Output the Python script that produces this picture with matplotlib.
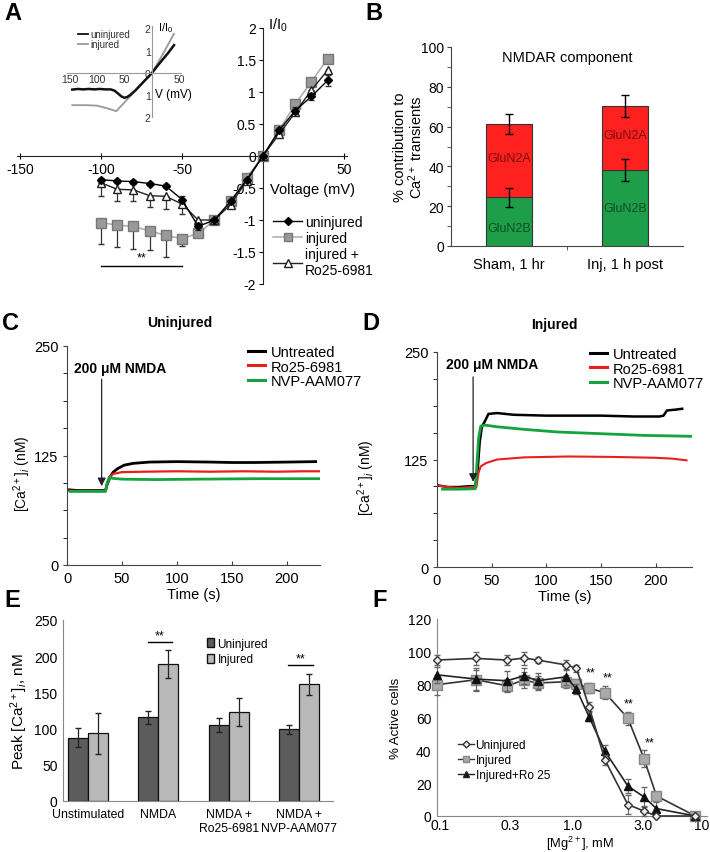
import matplotlib
matplotlib.use("Agg")
import matplotlib.pyplot as plt
import numpy as np
from matplotlib.lines import Line2D
from matplotlib.patches import Patch

plt.rcParams['font.family'] = ['Liberation Sans', 'DejaVu Sans']
plt.rcParams['mathtext.fontset'] = 'custom'
plt.rcParams['mathtext.rm'] = 'Liberation Sans'
plt.rcParams['mathtext.it'] = 'Liberation Sans:italic'
plt.rcParams['mathtext.bf'] = 'Liberation Sans:bold'

# ---------------- DATA ----------------
# Panel A: I-V relation
a_voltage = [-100, -90, -80, -70, -60, -50, -40, -30, -20, -10, 0, 10, 20, 30, 40]
a_uninjured = [-0.37, -0.39, -0.40, -0.43, -0.47, -0.68, -1.10, -1.00, -0.71, -0.37, 0.0, 0.40, 0.71, 0.93, 1.18]
a_uninjured_err = [0.03, 0.03, 0.03, 0.03, 0.03, 0.05, 0.05, 0.03, 0.03, 0.03, 0.0, 0.03, 0.05, 0.06, 0.08]
a_injured = [-1.04, -1.08, -1.10, -1.17, -1.24, -1.29, -1.21, -1.00, -0.71, -0.34, 0.0, 0.40, 0.81, 1.16, 1.52]
a_injured_err = [0.33, 0.34, 0.35, 0.30, 0.34, 0.12, 0.03, 0.03, 0.03, 0.03, 0.0, 0.03, 0.03, 0.03, 0.03]
a_ro = [-0.42, -0.52, -0.53, -0.62, -0.63, -0.75, -1.00, -1.00, -0.76, -0.39, 0.0, 0.34, 0.68, 1.03, 1.34]
a_ro_err = [0.21, 0.18, 0.18, 0.18, 0.20, 0.15, 0.03, 0.03, 0.03, 0.03, 0.0, 0.03, 0.04, 0.05, 0.06]
a_xticks = [-150, -100, -50, 0, 50]
a_yticks = [-2, -1.5, -1, -0.5, 0, 0.5, 1, 1.5, 2]

# Panel A inset: raw I-V ramps
ins_unin_v = [-145, -135, -125, -115, -105, -95, -85, -75, -68, -62, -56, -50, -45, -40, -30, -20, -10, 0, 10, 20, 30, 40]
ins_unin_i = [-0.75, -0.72, -0.74, -0.72, -0.74, -0.72, -0.74, -0.74, -0.80, -0.92, -1.05, -1.12, -1.08, -1.00, -0.78, -0.52, -0.26, 0.0, 0.32, 0.62, 0.92, 1.25]
ins_inj_v = [-145, -120, -100, -80, -65, -40, -20, 0, 20, 40]
ins_inj_i = [-1.45, -1.45, -1.47, -1.60, -1.72, -1.06, -0.53, 0.0, 0.86, 1.76]

# Panel B: stacked NMDAR components
b_groups = ['Sham, 1 hr', 'Inj, 1 h post']
b_glun2b = [24.5, 38.0]
b_glun2b_err = [4.7, 5.5]
b_total = [61.5, 70.5]
b_total_err = [5.0, 5.5]
b_glun2a = [t - g for t, g in zip(b_total, b_glun2b)]

# Panel C: uninjured Ca traces
c_black_t = [0, 10, 20, 30, 35, 36.5, 39, 42, 46, 52, 60, 75, 100, 130, 150, 170, 200, 226]
c_black_v = [86, 85, 85, 85, 85, 92, 100, 106, 110, 114, 116, 117.5, 118, 117.5, 117, 117, 117.5, 118]
c_red_t = [0, 10, 20, 30, 35, 36.5, 39, 42, 50, 70, 100, 130, 160, 190, 215, 231]
c_red_v = [85, 84.5, 84.5, 84.5, 84.5, 94, 101, 104, 106, 106.5, 107, 106.5, 107, 106.5, 107, 107]
c_green_t = [3, 15, 30, 35, 36.5, 38.5, 41, 50, 80, 120, 170, 229]
c_green_v = [84, 84, 84, 84, 93, 100.5, 99, 98, 97.5, 98, 98.5, 98.5]

# Panel D: injured Ca traces
d_black_t = [0, 10, 20, 30, 35, 37, 39, 41, 44, 47, 55, 70, 100, 150, 180, 203, 207, 210, 218, 224]
d_black_v = [95, 93, 93, 94, 94, 110, 145, 163, 170, 178, 179, 177, 176, 176, 175, 175, 176, 182, 183, 184]
d_red_t = [0, 10, 20, 30, 36, 38, 40, 45, 55, 80, 120, 160, 200, 215, 228]
d_red_v = [95, 93, 92, 93, 93, 110, 117, 121, 125, 127.5, 128.5, 128, 127, 126, 124]
d_green_t = [5, 20, 35, 36, 38, 40, 44, 55, 80, 110, 150, 190, 232]
d_green_v = [90.5, 90.5, 91, 110, 150, 164, 165, 163, 160, 157, 155, 153, 152]

# Panel E: peak Ca
e_groups = ['Unstimulated', 'NMDA', 'NMDA +\nRo25-6981', 'NMDA +\nNVP-AAM077']
e_uninjured = [87.5, 115.5, 105, 99]
e_uninjured_err = [13.5, 9, 10, 6.5]
e_injured = [93.5, 189.5, 123, 161]
e_injured_err = [28, 19, 19, 14]

# Panel F: Mg block
f_mg = [0.1, 0.2, 0.35, 0.47, 0.6, 1.0, 1.2, 1.5, 2.0, 3.0, 4.0, 5.0, 10.0]
f_uninjured = [95, 96, 95, 96.2, 95, 92, 90, 66.7, 34, 7, 3, 0, 0]
f_uninjured_err = [3, 4, 3, 4, 2, 3, 2, 3, 3, 6, 3, 0, 0]
f_injured = [80, 83, 79.3, 82.8, 81, 81.8, 80.3, 78, 75, 59.6, 35, 12.2, 0]
f_injured_err = [6, 6, 4, 5, 4, 4, 3, 3, 4, 4, 5, 2, 0]
f_ro = [86, 83.4, 82.4, 85.4, 82.4, 84.8, 77.3, 60.6, 39.3, 18.3, 11.6, 4.5, 0]
f_ro_err = [5, 7, 6, 5, 5, 5, 3, 3, 4, 4, 6, 4, 0]
f_star_x = [1.55, 2.1, 3.05, 4.4]
f_star_y = [84, 81, 65, 41]
f_tick_pos = [0.105, 0.371, 1.13, 3.95, 11.1]
f_tick_lab = ['0.1', '0.3', '1.0', '3.0', '10']

# ---------------- FIGURE ----------------
W, H = 710, 853
fig = plt.figure(figsize=(W / 100, H / 100), dpi=100)

def ax_px(l, t, r, b):
    return fig.add_axes([l / W, 1 - b / H, (r - l) / W, (b - t) / H])

def ftext(x, y, s, **kw):
    fig.text(x / W, 1 - y / H, s, **kw)

AX = '#444444'

# Panel letters
for lab, x, y in [('A', 4, 2), ('B', 365, 2), ('C', 2, 312), ('D', 362, 312), ('E', 4, 589), ('F', 372, 589)]:
    ftext(x, y, lab, fontsize=17, fontweight='bold', va='top', ha='left')

# ---------- Panel A ----------
axA = ax_px(17, 29, 347, 285)
axA.set_xlim(-152, 52)
axA.set_ylim(-2, 2)
for s in ['top', 'right']:
    axA.spines[s].set_visible(False)
axA.spines['left'].set_position(('data', 0))
axA.spines['bottom'].set_position(('data', 0))
axA.spines['left'].set_color('#222222')
axA.spines['bottom'].set_color('#222222')
axA.set_xticks(a_xticks)
axA.set_xticklabels(['' if v == 0 else str(v) for v in a_xticks], fontsize=10)
axA.set_yticks(a_yticks)
axA.set_yticklabels([('%g' % v) for v in a_yticks], fontsize=10)
axA.tick_params(axis='x', direction='inout', length=5, pad=2)
axA.tick_params(axis='y', direction='out', length=3, pad=2)
axA.patch.set_alpha(0)

axA.errorbar(a_voltage, a_injured, yerr=[a_injured_err, [0] * len(a_injured_err)], color='#aaaaaa',
             marker='s', markersize=6.5, markerfacecolor='#999999', markeredgecolor='#777777',
             lw=1.1, ecolor='#333333', elinewidth=0.9, capsize=2.5, zorder=3)
axA.errorbar(a_voltage, a_ro, yerr=[a_ro_err, [0] * len(a_ro_err)], color='#222222',
             marker='^', markersize=6, markerfacecolor='white', markeredgecolor='#222222',
             lw=1.0, ecolor='#333333', elinewidth=0.9, capsize=2.5, zorder=4)
axA.errorbar(a_voltage, a_uninjured, yerr=a_uninjured_err, color='black',
             marker='D', markersize=4, markerfacecolor='black', markeredgecolor='black',
             lw=1.0, ecolor='#333333', elinewidth=0.9, capsize=2.5, zorder=5)
axA.plot([-100, -50], [-1.72, -1.72], color='black', lw=1.0)
axA.text(-75, -1.68, '**', ha='center', va='bottom', fontsize=9)
ftext(313, 190, 'Voltage (mV)', fontsize=10.5, ha='center', va='center')
ftext(268, 25, 'I/I$_0$', fontsize=10.5, ha='left', va='center')

legA = [Line2D([], [], color='black', marker='D', markersize=4, lw=1),
        Line2D([], [], color='#aaaaaa', marker='s', markersize=6, markerfacecolor='#999999', markeredgecolor='#777777', lw=1.1),
        Line2D([], [], color='#222222', marker='^', markersize=5.5, markerfacecolor='white', lw=1)]
fig.legend(legA, ['uninjured', 'injured', 'injured +\nRo25-6981'], loc='upper left',
           bbox_to_anchor=(266 / W, 1 - 209 / H), frameon=False, fontsize=10,
           handlelength=2.1, handletextpad=0.2, labelspacing=0.15, borderpad=0)

# Inset
axI = ax_px(66.75, 27.25, 180.6, 118.4)
axI.set_xlim(-155, 52)
axI.set_ylim(-1.95, 2.1)
axI.patch.set_alpha(0)
for s in ['top', 'right']:
    axI.spines[s].set_visible(False)
axI.spines['left'].set_position(('data', 0))
axI.spines['bottom'].set_position(('data', 0))
axI.spines['left'].set_color('#999999')
axI.spines['bottom'].set_color('#999999')
axI.set_xticks([-150, -100, -50, 50])
axI.set_xticklabels(['150', '100', '50', '50'], fontsize=7.5, color='#333333')
axI.set_yticks([-2, -1, 0, 1, 2])
axI.set_yticklabels(['2', '1', '0', '1', '2'], fontsize=7.5, color='#333333')
axI.tick_params(length=0, pad=1)
axI.plot(ins_inj_v, ins_inj_i, color='#999999', lw=1.3)
axI.plot(ins_unin_v, ins_unin_i, color='#111111', lw=1.8)
ftext(158, 28, 'I/I$_0$', fontsize=8, ha='left', va='center')
ftext(155, 95, 'V (mV)', fontsize=8.5, ha='left', va='center')
fig.add_artist(Line2D([78 / W, 88 / W], [1 - 35 / H, 1 - 35 / H], color='#111111', lw=1.3))
fig.add_artist(Line2D([78 / W, 88 / W], [1 - 45 / H, 1 - 45 / H], color='#999999', lw=1.3))
ftext(90, 35, 'uninjured', fontsize=7, va='center', color='#333333')
ftext(90, 45, 'injured', fontsize=7, va='center', color='#333333')

# ---------- Panel B ----------
axB = ax_px(451, 48, 683, 247)
axB.set_xlim(-0.5, 1.5)
axB.set_ylim(0, 100)
for s in ['top', 'right']:
    axB.spines[s].set_visible(False)
axB.spines['left'].set_color(AX)
axB.spines['bottom'].set_color(AX)
xb = np.arange(len(b_groups))
axB.bar(xb, b_glun2b, width=0.4, color='#1f9e4a', edgecolor='#333333', lw=0.8, zorder=2)
axB.bar(xb, b_glun2a, width=0.4, bottom=b_glun2b, color='#ff2020', edgecolor='#333333', lw=0.8, zorder=2)
axB.errorbar(xb, b_glun2b, yerr=b_glun2b_err, fmt='none', ecolor='black', elinewidth=1, capsize=3, zorder=3)
axB.errorbar(xb, b_total, yerr=b_total_err, fmt='none', ecolor='black', elinewidth=1, capsize=3, zorder=3)
for i in range(len(b_groups)):
    if i == 0:
        ya, yb = 44, 9
    else:
        ya, yb = 56, 19
    axB.text(xb[i], ya, 'GluN2A', ha='center', va='center', fontsize=9, color='#7a1010')
    axB.text(xb[i], yb, 'GluN2B', ha='center', va='center', fontsize=9, color='#0c4f24')
axB.set_yticks(range(0, 101, 20))
axB.set_yticks(range(0, 101, 10), minor=True)
axB.tick_params(axis='y', labelsize=10, length=3, color=AX, pad=2)
axB.tick_params(axis='y', which='minor', length=3, color=AX)
axB.set_xticks(xb)
axB.set_xticklabels(b_groups, fontsize=10.5)
axB.tick_params(axis='x', length=0, pad=8)
axB.set_xticks([0.5], minor=True)
axB.tick_params(axis='x', which='minor', length=3, color=AX)
axB.text(0.5, 95, 'NMDAR component', ha='center', va='center', fontsize=10.5)
axB.set_ylabel('% contribution to\nCa$^{2+}$ transients', fontsize=10.5, linespacing=1.0)
axB.yaxis.set_label_coords(-0.11, 0.5)

# ---------- Panels C & D ----------
def trace_panel(box, xmax, traces, title, title_xy, arrow_t, arrow_y, text_xy, ylab_x):
    ax = ax_px(*box)
    ax.set_xlim(0, xmax)
    ax.set_ylim(0, 250)
    for s in ['top', 'right']:
        ax.spines[s].set_visible(False)
    ax.spines['left'].set_color(AX)
    ax.spines['bottom'].set_color(AX)
    ax.set_yticks([0, 125, 250])
    ax.set_yticks(np.arange(0, 251, 31.25), minor=True)
    ax.set_xticks([0, 50, 100, 150, 200])
    ax.tick_params(axis='both', labelsize=10.5, color=AX)
    ax.tick_params(axis='y', which='both', length=3, direction='out', pad=3)
    ax.tick_params(axis='x', length=3, direction='in', pad=4)
    for t, v, c, lw in traces:
        ax.plot(t, v, color=c, lw=lw)
    ax.annotate('', xy=(arrow_t, arrow_y[1]), xytext=(arrow_t, arrow_y[0]),
                arrowprops=dict(arrowstyle='-|>', color='#222222', lw=0.9, mutation_scale=12, shrinkA=0, shrinkB=0))
    ax.text(text_xy[0], text_xy[1], '200 μM NMDA', fontsize=10, fontweight='bold', ha='center', va='center')
    ax.set_xlabel('Time (s)', fontsize=10.5, labelpad=2)
    ax.set_ylabel('[Ca$^{2+}$]$_i$ (nM)', fontsize=10)
    ax.yaxis.set_label_coords(ylab_x, 0.42)
    ftext(title_xy[0], title_xy[1], title, fontsize=10, fontweight='bold', ha='center', va='center')
    return ax

axC = trace_panel((67, 347, 320, 566), 230,
                  [(c_black_t, c_black_v, 'black', 2.0), (c_red_t, c_red_v, '#e8201c', 1.6),
                   (c_green_t, c_green_v, '#14a33c', 2.0)],
                  'Uninjured', (180, 323), 31.5, (212, 90), (48, 225), -0.134)
axD = trace_panel((437, 353, 692, 568), 233,
                  [(d_black_t, d_black_v, 'black', 1.8), (d_red_t, d_red_v, '#e8201c', 1.5),
                   (d_green_t, d_green_v, '#14a33c', 2.0)],
                  'Injured', (554, 325), 33, (221, 99), (50, 236), -0.235)

for box_leg in [(241, 339), (583, 341)]:
    hs = [Line2D([], [], color='black', lw=2.2), Line2D([], [], color='#e8201c', lw=2.2),
          Line2D([], [], color='#14a33c', lw=2.2)]
    fig.legend(hs, ['Untreated', 'Ro25-6981', 'NVP-AAM077'], loc='upper left',
               bbox_to_anchor=(box_leg[0] / W, 1 - box_leg[1] / H), frameon=False, fontsize=10.5,
               handlelength=1.15, handletextpad=0.4, labelspacing=0.02, borderpad=0)

# ---------- Panel E ----------
axE = ax_px(63, 621, 333, 802)
axE.set_xlim(-0.357, 3.486)
axE.set_ylim(0, 250)
for s in ['top', 'right']:
    axE.spines[s].set_visible(False)
axE.spines['left'].set_color('#888888')
axE.spines['bottom'].set_color('#888888')
xe = np.arange(len(e_groups))
bw = 0.286
axE.bar(xe - bw / 2, e_uninjured, width=bw, color='#5c5c5c', edgecolor='#111111', lw=0.9, zorder=2)
axE.bar(xe + bw / 2, e_injured, width=bw, color='#b9b9b9', edgecolor='#111111', lw=0.9, zorder=2)
axE.errorbar(xe - bw / 2, e_uninjured, yerr=e_uninjured_err, fmt='none', ecolor='#222222', elinewidth=0.9, capsize=2, zorder=3)
axE.errorbar(xe + bw / 2, e_injured, yerr=e_injured_err, fmt='none', ecolor='#222222', elinewidth=0.9, capsize=2, zorder=3)
axE.set_yticks(range(0, 251, 50))
axE.tick_params(axis='y', labelsize=10, length=0, pad=4)
axE.set_xticks(xe)
axE.set_xticklabels(e_groups, fontsize=8.8, linespacing=1.2)
axE.tick_params(axis='x', length=0, pad=5)
for gi, yy in [(1, 220), (3, 188)]:
    axE.plot([xe[gi] - 0.15, xe[gi] + 0.2], [yy, yy], color='black', lw=1)
    axE.text(xe[gi] + 0.02, yy + 1, '**', ha='center', va='bottom', fontsize=9)
axE.set_ylabel('Peak [Ca$^{2+}$]$_i$, nM', fontsize=11)
axE.yaxis.set_label_coords(-0.122, 0.5)
hE = [Patch(facecolor='#5c5c5c', edgecolor='#111111'), Patch(facecolor='#b9b9b9', edgecolor='#111111')]
fig.legend(hE, ['Uninjured', 'Injured'], loc='upper left', bbox_to_anchor=(201 / W, 1 - 633 / H),
           frameon=False, fontsize=8.5, handlelength=0.6, handleheight=0.8, handletextpad=0.3,
           labelspacing=0.3, borderpad=0)

# ---------- Panel F ----------
axF = ax_px(437, 620, 707, 817)
axF.set_xscale('log')
axF.set_xlim(0.1, 12.3)
axF.set_ylim(0, 120)
for s in ['top', 'right']:
    axF.spines[s].set_visible(False)
axF.spines['left'].set_color('#888888')
axF.spines['bottom'].set_color('#888888')
axF.set_yticks(range(0, 121, 20))
axF.tick_params(axis='y', labelsize=10, length=0, pad=4)
axF.set_xticks(f_tick_pos)
axF.set_xticklabels(f_tick_lab, fontsize=10)
axF.xaxis.set_minor_locator(matplotlib.ticker.NullLocator())
axF.tick_params(axis='x', length=0, pad=1.5)
axF.errorbar(f_mg, f_injured, yerr=f_injured_err, color='#333333', lw=1.2, marker='s', markersize=6.5,
             markerfacecolor='#aaaaaa', markeredgecolor='#888888', ecolor='#666666', elinewidth=0.8,
             capsize=2, clip_on=False, zorder=3)
axF.errorbar(f_mg, f_ro, yerr=f_ro_err, color='#222222', lw=1.2, marker='^', markersize=5.5,
             markerfacecolor='#111111', markeredgecolor='#111111', ecolor='#666666', elinewidth=0.8,
             capsize=2, clip_on=False, zorder=4)
axF.errorbar(f_mg, f_uninjured, yerr=f_uninjured_err, color='#333333', lw=1.2, marker='D', markersize=4,
             markerfacecolor='#eeeeee', markeredgecolor='#333333', ecolor='#666666', elinewidth=0.8,
             capsize=2, clip_on=False, zorder=5)
for sx, sy in zip(f_star_x, f_star_y):
    axF.text(sx, sy, '**', ha='center', va='bottom', fontsize=9)
axF.set_ylabel('% Active cells', fontsize=9.5)
axF.yaxis.set_label_coords(-0.13, 0.5)
axF.set_xlabel('[Mg$^{2+}$], mM', fontsize=9.3)
axF.xaxis.set_label_coords((580 - 437) / 270, (817 - 835) / 197)
hF = [Line2D([], [], color='#333333', marker='D', markersize=3.5, markerfacecolor='#eeeeee', lw=1),
      Line2D([], [], color='#333333', marker='s', markersize=5, markerfacecolor='#aaaaaa', markeredgecolor='#888888', lw=1),
      Line2D([], [], color='#222222', marker='^', markersize=5, markerfacecolor='#111111', lw=1)]
fig.legend(hF, ['Uninjured', 'Injured', 'Injured+Ro 25'], loc='upper left',
           bbox_to_anchor=(452 / W, 1 - 734 / H), frameon=False, fontsize=8.5,
           handlelength=1.4, handletextpad=0.1, labelspacing=0.25, borderpad=0)

fig.savefig('out.png', dpi=100)
